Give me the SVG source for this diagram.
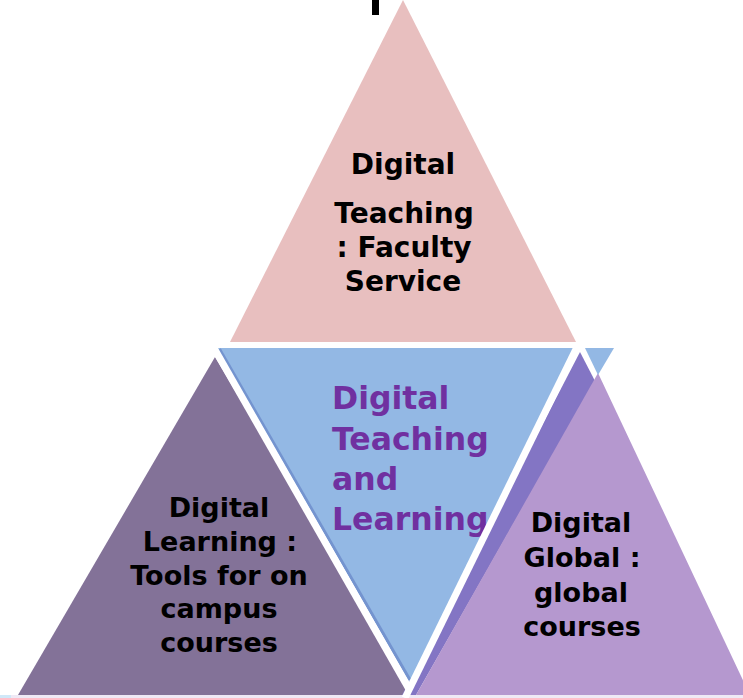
<svg xmlns="http://www.w3.org/2000/svg" width="743" height="698" viewBox="0 0 743 698">
<style>
.t{font-family:"DejaVu Sans","Liberation Sans",sans-serif;font-weight:bold;fill:#000;text-anchor:middle}
.c{font-family:"DejaVu Sans","Liberation Sans",sans-serif;font-weight:bold;fill:#7030A0;font-size:31.5px}
.sep{stroke:#fff;stroke-width:7;fill:none;stroke-linecap:butt}
</style>
<rect width="743" height="698" fill="#fff"/>
<rect x="372" y="0" width="7" height="15" fill="#000"/>
<rect x="0" y="695" width="743" height="3" fill="#EFE9F5"/>
<rect x="0" y="695" width="11" height="3" fill="#D0E8F8"/>
<g id="node-top">
<polygon points="403,0 230,342 576,342" fill="#E8BFBF"/>
<text class="t" font-size="28" x="403" y="174">Digital</text>
<text class="t" font-size="28" x="404" y="223">Teaching</text>
<text class="t" font-size="28" x="404" y="257">: Faculty</text>
<text class="t" font-size="28" x="403" y="291">Service</text>
</g>
<g id="node-left">
<polygon points="215,357 18,695 415,695" fill="#837298"/>
<text class="t" font-size="27" x="219" y="517">Digital</text>
<text class="t" font-size="27" x="220" y="551">Learning :</text>
<text class="t" font-size="27" x="219" y="585">Tools for on</text>
<text class="t" font-size="27" x="219" y="618">campus</text>
<text class="t" font-size="27" x="219" y="652">courses</text>
</g>
<g id="node-right">
<polygon points="580,352 595,381 416,695 402,695" fill="#8375C4"/>
<polygon points="598,373 416,695 750,695" fill="#B598CF"/>
<polygon points="585,348 614,348 598,375" fill="#93B8E4"/>
<text class="t" font-size="27" x="581" y="532">Digital</text>
<text class="t" font-size="27" x="582" y="567">Global :</text>
<text class="t" font-size="27" x="581" y="602">global</text>
<text class="t" font-size="27" x="582" y="636">courses</text>
</g>
<g id="node-center">
<polygon points="217,348 575,348 410,682" fill="#93B8E4"/>
<line x1="219.5" y1="349" x2="410" y2="680" stroke="#7494CF" stroke-width="3"/>
<text class="c" x="332" y="409">Digital</text>
<text class="c" x="332" y="450">Teaching</text>
<text class="c" x="332" y="490">and</text>
<text class="c" x="332" y="530">Learning</text>
</g>
<g id="connectors">
<line class="sep" x1="214" y1="348" x2="409.5" y2="690"/>
<line class="sep" x1="577" y1="347" x2="405" y2="698"/>
</g>
</svg>
